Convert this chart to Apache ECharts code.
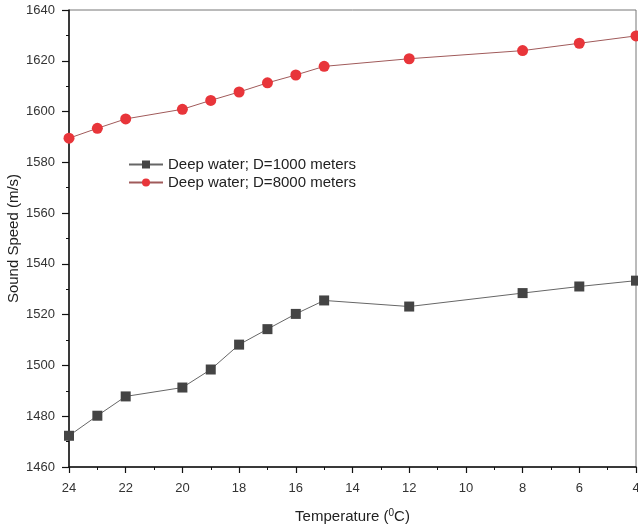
<!DOCTYPE html>
<html>
<head>
<meta charset="utf-8">
<script src="https://cdn.jsdelivr.net/npm/echarts@6/dist/echarts.min.js"></script>
<style>html,body{margin:0;padding:0;background:#fff;}#c{width:638px;height:526px;}</style>
</head>
<body>
<div id="c"></div>
<script>
var temperatures = [24, 23, 22, 20, 19, 18, 17, 16, 15, 12, 8, 6, 4];
var speed1000 = [1472.3, 1480.2, 1487.8, 1491.3, 1498.4, 1508.2, 1514.3, 1520.3, 1525.6, 1523.2, 1528.5, 1531.1, 1533.4];
var speed8000 = [1589.5, 1593.4, 1597.1, 1600.9, 1604.4, 1607.7, 1611.3, 1614.4, 1617.8, 1620.8, 1624.0, 1626.9, 1629.8];
var seriesNames = ['Deep water; D=1000 meters', 'Deep water; D=8000 meters'];

function pairs(xs, ys) { return xs.map(function (x, i) { return [x, ys[i]]; }); }

var chart = echarts.init(document.getElementById('c'), null, { renderer: 'canvas' });
var font = 'Liberation Sans, Arial, sans-serif';
chart.setOption({
  animation: false,
  textStyle: { fontFamily: font },
  grid: { left: 69, right: 2, top: 10, bottom: 59, show: true, borderColor: '#777', borderWidth: 1, containLabel: false, outerBoundsMode: 'none' },
  legend: {
    orient: 'vertical', left: 123, top: 152, itemWidth: 34, itemHeight: 10, itemGap: 3,
    textStyle: { fontSize: 15, color: '#222', fontFamily: font },
    data: seriesNames
  },
  xAxis: {
    type: 'value', inverse: true, min: 4, max: 24, interval: 2,
    name: 'Temperature ({sup|0}C)', nameLocation: 'middle', nameGap: 41,
    nameTextStyle: { fontSize: 15, color: '#222', fontFamily: font, rich: { sup: { fontSize: 10, verticalAlign: 'top', padding: [0, 0, 7, 0], color: '#222' } } },
    axisLine: { onZero: false, lineStyle: { color: '#111', width: 1.5 } },
    axisTick: { length: 6, lineStyle: { color: '#111', width: 1.2 } },
    minorTick: { show: true, splitNumber: 2, length: 3, lineStyle: { color: '#111', width: 1 } },
    axisLabel: { fontSize: 13, color: '#333', margin: 15 },
    splitLine: { show: false }
  },
  yAxis: {
    type: 'value', min: 1460, max: 1640, interval: 20,
    name: 'Sound Speed (m/s)', nameLocation: 'middle', nameGap: 48, nameMoveOverlap: false,
    nameTextStyle: { fontSize: 15, color: '#222', fontFamily: font },
    axisLine: { onZero: false, lineStyle: { color: '#111', width: 1.5 } },
    axisTick: { length: 7, lineStyle: { color: '#111', width: 1.2 } },
    minorTick: { show: true, splitNumber: 2, length: 3, lineStyle: { color: '#111', width: 1 } },
    axisLabel: { fontSize: 13, color: '#333', margin: 14, formatter: function (v) { return String(v); } },
    splitLine: { show: false }
  },
  series: [
    {
      name: seriesNames[0], type: 'line', data: pairs(temperatures, speed1000),
      symbol: 'rect', symbolSize: 10,
      itemStyle: { color: '#444' },
      lineStyle: { color: '#666', width: 1 }
    },
    {
      name: seriesNames[1], type: 'line', data: pairs(temperatures, speed8000),
      symbol: 'circle', symbolSize: 11,
      itemStyle: { color: '#e8353a' },
      lineStyle: { color: '#a05a5a', width: 1 }
    }
  ]
});
</script>
</body>
</html>
